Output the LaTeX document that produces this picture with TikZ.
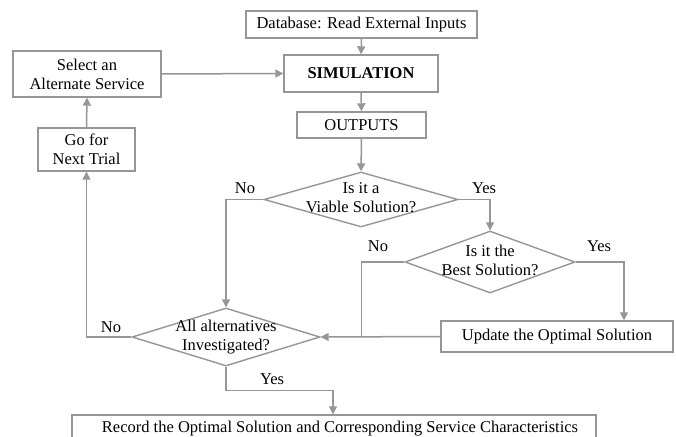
\documentclass[tikz,border=0pt]{standalone}
\usepackage{fontspec}
\setmainfont{Liberation Serif}
\usetikzlibrary{shapes.geometric,arrows.meta,calc}
\definecolor{linec}{RGB}{150,150,150}
\begin{document}
\begin{tikzpicture}[x=1pt,y=-1pt,
  every node/.style={font=\fontsize{16.5}{19}\selectfont, text=black},
  box/.style={draw=linec, line width=1.4pt, inner sep=0pt, align=center},
  dia/.style={draw=linec, line width=1.4pt, diamond, inner sep=0pt, aspect=3},
  txt/.style={align=center, inner sep=0pt},
  conn/.style={draw=linec, line width=1.5pt},
  arr/.style={conn, -{Triangle[length=8pt,width=8pt]}}]
\useasboundingbox (0,0) rectangle (676,436);
\fill[white] (0,0) rectangle (676,436);
\node[box, minimum width=231, minimum height=27] (db) at (361.5,24.5) {Database: Read External Inputs};
\node[box, minimum width=154, minimum height=37] (sim) at (361,73.5) {\textbf{SIMULATION}};
\node[box, minimum width=148, minimum height=46] (sel) at (87,74) {Select an\\Alternate Service};
\node[box, minimum width=129, minimum height=26] (out) at (361.5,125) {OUTPUTS};
\node[box, minimum width=97, minimum height=43] (go) at (86.5,149.5) {Go for\\Next Trial};
\node[dia, minimum width=194, minimum height=55] (d1) at (361,199.5) {};
\node[txt] (t1) at (361,198) {Is it a\\Viable Solution?};
\node[dia, minimum width=170, minimum height=62] (d2) at (490,262) {};
\node[txt] (t2) at (490,260) {Is it the\\Best Solution?};
\node[dia, minimum width=188, minimum height=58] (d3) at (226,337) {};
\node[txt] (t3) at (226,337) {All alternatives\\Investigated?};
\node[box, minimum width=232, minimum height=31] (upd) at (557,336.5) {Update the Optimal Solution};
\node[box, minimum width=524, minimum height=34] (rec) at (334,432) {};
\node[txt] (trec) at (340,429) {Record the Optimal Solution and Corresponding Service Characteristics};
\node[txt] (no1) at (245,188) {No};
\node[txt] (yes1) at (484,188) {Yes};
\node[txt] (no2) at (378,246) {No};
\node[txt] (yes2) at (599,246) {Yes};
\node[txt] (no3) at (111,327) {No};
\node[txt] (yes3) at (272,379) {Yes};
\draw[arr] (db.south) -- (sim.north);
\draw[arr] (sel.east) -- (sim.west);
\draw[arr] (sim.south) -- (out.north);
\draw[arr] (out.south) -- (d1.north);
\draw[arr] (d1.west) -| (d3.north);
\draw[arr] (d1.east) -| (d2.north);
\draw[arr] (d2.east) -| ($(upd.north)+(67,0)$);
\draw[conn] (d2.west) -| ($(d3.east)+(41,0)$);
\draw[arr] (upd.west) -- (d3.east);
\draw[arr] (d3.west) -| (go.south);
\draw[arr] (go.north) -- (sel.south);
\draw[arr] (d3.south) -- ++(0,24) -| ($(rec.north)+(-1,0)$);
\end{tikzpicture}
\end{document}
